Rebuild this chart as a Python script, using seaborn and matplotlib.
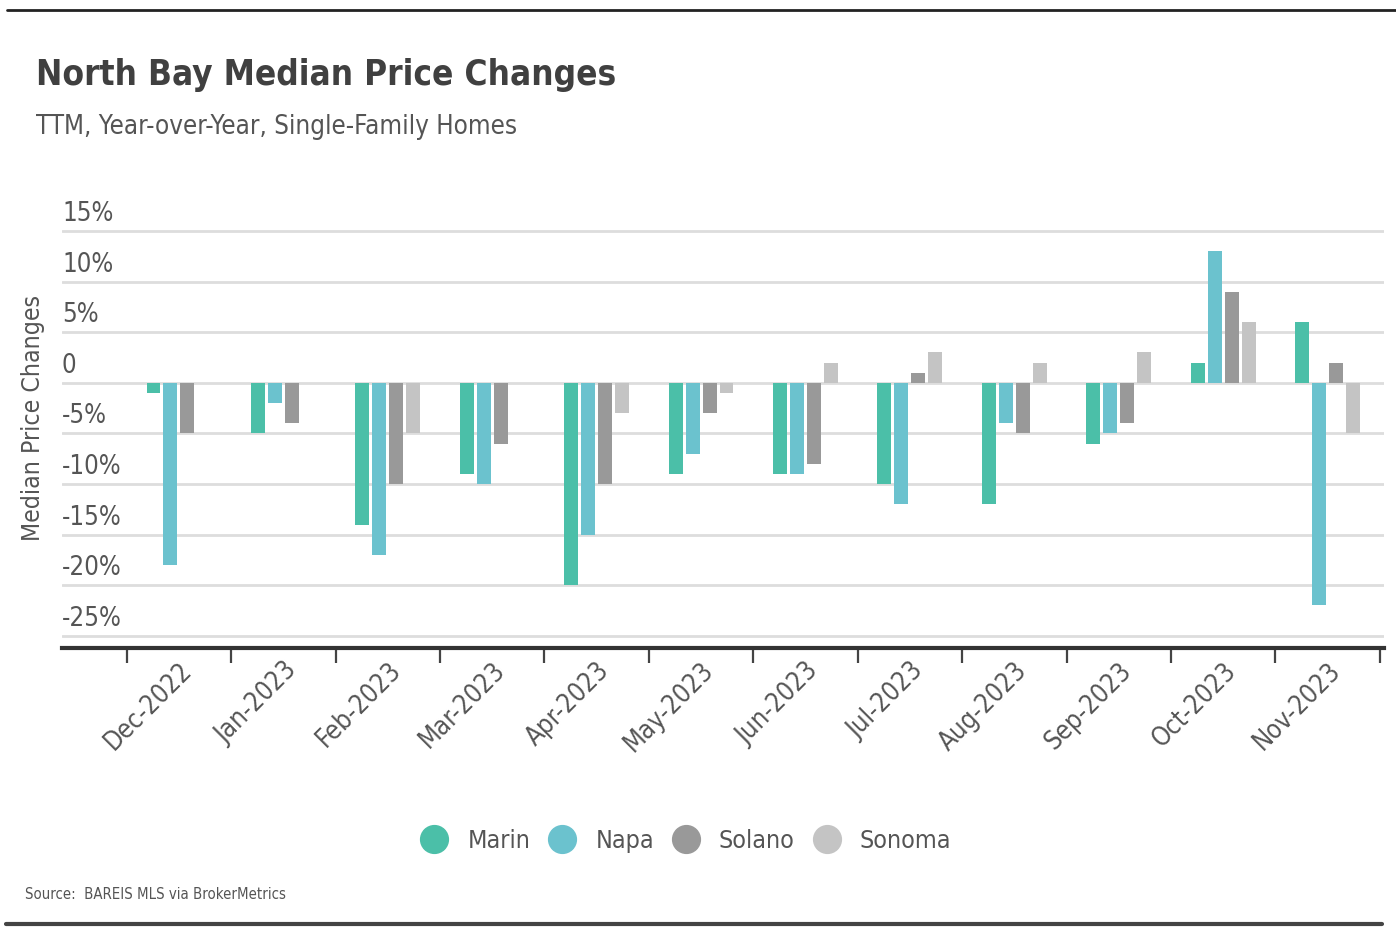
import pandas as pd
import seaborn as sns
import matplotlib.pyplot as plt
from matplotlib import font_manager as fm
from matplotlib.lines import Line2D
from matplotlib.transforms import offset_copy

months = ["Dec-2022", "Jan-2023", "Feb-2023", "Mar-2023", "Apr-2023", "May-2023",
          "Jun-2023", "Jul-2023", "Aug-2023", "Sep-2023", "Oct-2023", "Nov-2023"]
counties = ["Marin", "Napa", "Solano", "Sonoma"]

marin = [-1, -5, -14, -9, -20, -9, -9, -10, -12, -6, 2, 6]
napa = [-18, -2, -17, -10, -15, -7, -9, -12, -4, -5, 13, -22]
solano = [-5, -4, -10, -6, -10, -3, -8, 1, -5, -4, 9, 2]
sonoma = [0, 0, -5, 0, -3, -1, 2, 3, 2, 3, 6, -5]

colors = ["#4bbfa8", "#6bc2ce", "#999999", "#c4c4c4"]
ytick_vals = [15, 10, 5, 0, -5, -10, -15, -20, -25]
ytick_labels = ["15%", "10%", "5%", "0", "-5%", "-10%", "-15%", "-20%", "-25%"]


def find_narrow(bold):
    # look for a condensed / narrow sans face among the installed fonts
    best, best_score = None, None
    for f in fm.fontManager.ttflist:
        nm, fn = f.name.lower(), f.fname.lower()
        st = str(f.stretch).lower()
        is_narrow = ("narrow" in nm or "condensed" in nm or "narrow" in fn
                     or "condensed" in fn or "condensed" in st)
        if not is_narrow or "mono" in nm or "serif" in nm or f.style != "normal":
            continue
        if "cjk" in nm or "extra" in fn or "ultra" in fn or "semi" in fn:
            continue
        try:
            w = int(f.weight)
        except ValueError:
            w = 700 if "bold" in str(f.weight) else 400
        target = 700 if bold else 400
        score = abs(w - target)
        if "liberation" in nm:
            score -= 50
        if best_score is None or score < best_score:
            best, best_score = f.fname, score
    return best


reg_path = find_narrow(False)
bold_path = find_narrow(True)


def fp(size, bold=False):
    path = bold_path if bold else reg_path
    if path:
        return fm.FontProperties(fname=path, size=size)
    return fm.FontProperties(family="Roboto", size=size * 0.85,
                             weight="bold" if bold else "normal")


rows = []
for name, vals in zip(counties, [marin, napa, solano, sonoma]):
    for m, v in zip(months, vals):
        rows.append({"month": m, "county": name, "change": v})
df = pd.DataFrame(rows)

sns.set_theme(style="white")

fig = plt.figure(figsize=(13.96, 9.36), dpi=100)
ax = fig.add_axes([0.0444, 0.3077, 0.947, 0.4563])

sns.barplot(data=df, x="month", y="change", hue="county", order=months,
            hue_order=counties, palette=colors, width=0.65, gap=0.18,
            linewidth=0, saturation=1, legend=False, ax=ax)

ax.set_ylim(-26.2, 16)
ax.set_xlim(-1.12, 11.54)
ax.set_yticks(ytick_vals)
ax.set_yticklabels([])
ax.tick_params(axis="y", length=0)
ax.grid(axis="y", color="#dddddd", linewidth=2)
ax.set_axisbelow(True)
for s in ["top", "right", "left"]:
    ax.spines[s].set_visible(False)
ax.spines["bottom"].set_color("#333333")
ax.spines["bottom"].set_linewidth(3)

ytr = offset_copy(ax.get_yaxis_transform(), fig=fig, y=10, units="dots")
for v, lab in zip(ytick_vals, ytick_labels):
    ax.text(0.0, v, lab, transform=ytr, ha="left", va="baseline",
            fontproperties=fp(18.5), color="#555555")

ax.set_xticks(range(len(months)))
ax.set_xticklabels(months, rotation=45, ha="right", rotation_mode="anchor",
                   color="#555555")
for lab in ax.get_xticklabels():
    lab.set_fontproperties(fp(18.5))
ax.tick_params(axis="x", which="major", length=0, pad=7)
ax.set_xticks([i - 0.5 for i in range(len(months) + 1)], minor=True)
ax.tick_params(axis="x", which="minor", length=11, width=1.6, color="#444444",
               bottom=True)

ax.set_xlabel("")
ax.set_ylabel("Median Price Changes", fontproperties=fp(17.8), color="#555555")
ax.yaxis.set_label_coords(-0.013, 0.539)

fig.text(0.026, 0.92, "North Bay Median Price Changes",
         fontproperties=fp(25.2, bold=True), color="#404040", va="center")
fig.text(0.026, 0.864, "TTM, Year-over-Year, Single-Family Homes",
         fontproperties=fp(18.6), color="#555555", va="center")
fig.text(0.018, 0.044, "Source:  BAREIS MLS via BrokerMetrics",
         fontproperties=fp(10.7), color="#555555", va="center")

handles = [Line2D([], [], marker="o", linestyle="", markersize=20,
                  markerfacecolor=c, markeredgecolor=c) for c in colors]
fig.legend(handles, counties, loc="center", bbox_to_anchor=(0.491, 0.1015),
           ncol=4, frameon=False, prop=fp(18), handlelength=1.2,
           handletextpad=0.72, columnspacing=0.68, labelcolor="#555555")

fig.add_artist(Line2D([0.005, 1.0], [0.989, 0.989], color="#222222", linewidth=2))
fig.add_artist(Line2D([0.004, 0.99], [0.013, 0.013], color="#444444", linewidth=3))

fig.savefig("out.png", dpi=100)
